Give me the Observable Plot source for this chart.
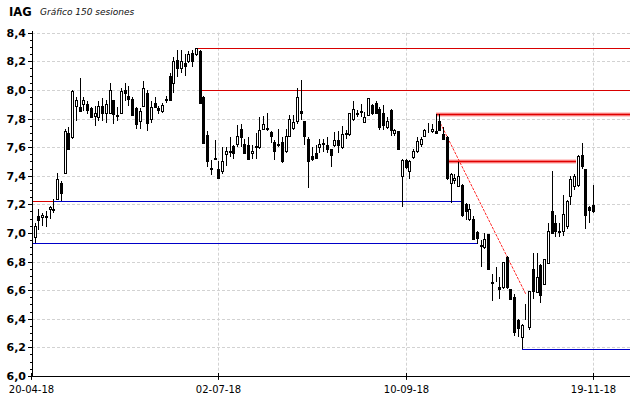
<!DOCTYPE html>
<html><head><meta charset="utf-8">
<script src="https://cdn.jsdelivr.net/npm/d3@7"></script>
<script src="https://cdn.jsdelivr.net/npm/@observablehq/plot@0.6"></script>
<style>body{margin:0;background:#fff}#chart{width:640px;height:398px}</style>
</head><body><div id="chart"></div><script>
// 150 sessions, Apr 23 2018 .. Nov 19 2018 (index 0..149)
const opens  = [6.97,7.12,7.11,7.11,7.17,7.16,7.24,7.35,7.42,7.70,
7.67,7.89,7.88,7.90,7.90,7.87,7.82,7.81,7.89,7.84,
7.84,7.93,7.825,7.84,8.00,7.96,7.935,7.875,7.78,7.89,
7.98,7.80,7.91,7.876,7.85,7.93,8.10,8.05,8.21,8.15,
8.19,8.20,8.255,8.25,8.27,7.95,7.685,7.457,7.525,7.445,
7.43,7.555,7.575,7.61,7.62,7.73,7.625,7.615,7.557,7.60,
7.60,7.73,7.735,7.706,7.635,7.625,7.635,7.57,7.68,7.735,
7.78,7.85,7.78,7.66,7.537,7.556,7.598,7.627,7.615,7.585,
7.615,7.65,7.60,7.70,7.69,7.80,7.838,7.85,7.773,7.825,
7.895,7.91,7.865,7.835,7.74,7.86,7.70,7.71,7.40,7.51,
7.435,7.53,7.57,7.62,7.68,7.716,7.715,7.715,7.78,7.69,
7.67,7.35,7.37,7.325,7.335,7.20,7.10,7.10,7.004,6.912,
6.90,6.99,6.66,6.672,6.62,6.62,6.83,6.605,6.555,6.39,
6.27,6.40,6.34,6.745,6.59,6.775,6.645,6.79,7.15,7.067,
7.005,7.01,7.05,7.255,7.325,7.335,7.545,7.45,7.18,7.195];
const highs  = [7.07,7.17,7.14,7.15,7.19,7.24,7.42,7.36,7.73,7.74,
8.00,7.95,8.08,7.95,7.92,7.88,7.89,7.92,7.94,7.93,
8.05,7.93,7.88,8.01,8.05,8.03,7.95,7.88,7.87,8.06,
8.00,7.92,7.95,7.89,7.91,7.96,8.12,8.23,8.28,8.28,
8.25,8.27,8.28,8.29,8.28,7.96,7.71,7.51,7.65,7.50,
7.60,7.60,7.67,7.615,7.755,7.76,7.66,7.67,7.615,7.697,
7.81,7.82,7.84,7.713,7.65,7.727,7.673,7.73,7.825,7.825,
8.01,8.07,7.78,7.673,7.603,7.615,7.66,7.66,7.668,7.59,
7.708,7.713,7.75,7.72,7.84,7.925,7.86,7.90,7.848,7.94,
7.90,7.92,7.88,7.895,7.808,7.864,7.73,7.715,7.52,7.52,
7.51,7.59,7.67,7.673,7.727,7.766,7.76,7.83,7.83,7.743,
7.68,7.417,7.41,7.498,7.34,7.21,7.20,7.115,7.01,6.95,
6.997,6.995,6.713,6.764,6.694,6.80,6.84,6.61,6.57,6.395,
6.36,6.50,6.595,6.857,6.862,6.78,6.82,7.067,7.43,7.125,
7.067,7.265,7.23,7.40,7.41,7.545,7.627,7.45,7.19,7.335];
const lows   = [6.93,7.02,7.05,7.04,7.095,7.14,7.23,7.226,7.41,7.585,
7.66,7.78,7.85,7.85,7.83,7.81,7.75,7.78,7.78,7.77,
7.83,7.765,7.78,7.835,7.92,7.89,7.82,7.73,7.73,7.88,
7.71,7.77,7.87,7.83,7.84,7.905,7.92,7.98,8.09,8.12,
8.10,8.19,8.16,8.24,7.91,7.62,7.46,7.405,7.51,7.38,
7.41,7.47,7.53,7.52,7.60,7.60,7.55,7.51,7.52,7.515,
7.59,7.72,7.71,7.626,7.51,7.603,7.487,7.56,7.668,7.72,
7.765,7.79,7.615,7.317,7.503,7.52,7.556,7.568,7.556,7.463,
7.603,7.556,7.59,7.655,7.68,7.785,7.81,7.81,7.77,7.82,
7.825,7.835,7.72,7.72,7.73,7.678,7.678,7.58,7.18,7.45,
7.38,7.52,7.56,7.603,7.668,7.696,7.696,7.695,7.715,7.65,
7.37,7.21,7.34,7.32,7.11,7.09,7.085,6.955,6.92,6.764,
6.89,6.745,6.526,6.66,6.538,6.61,6.61,6.535,6.28,6.274,
6.188,6.39,6.32,6.535,6.585,6.507,6.64,6.783,6.99,6.974,
6.974,6.98,7.03,7.195,7.30,7.32,7.45,7.03,7.07,7.14];
const closes = [7.05,7.09,7.125,7.12,7.18,7.165,7.38,7.28,7.71,7.59,
7.99,7.93,7.855,7.93,7.86,7.81,7.835,7.89,7.84,7.90,
8.00,7.83,7.815,7.99,7.975,7.935,7.825,7.765,7.85,8.01,
7.77,7.88,7.88,7.86,7.894,7.935,7.93,8.20,8.15,8.20,
8.17,8.25,8.205,8.29,7.91,7.63,7.50,7.445,7.515,7.385,
7.50,7.57,7.565,7.56,7.68,7.67,7.56,7.52,7.573,7.61,
7.72,7.765,7.73,7.68,7.575,7.614,7.505,7.68,7.795,7.775,
7.95,7.84,7.675,7.50,7.517,7.526,7.62,7.625,7.587,7.545,
7.65,7.615,7.695,7.69,7.835,7.865,7.83,7.845,7.808,7.94,
7.835,7.84,7.74,7.755,7.785,7.72,7.72,7.585,7.51,7.46,
7.50,7.57,7.64,7.655,7.72,7.712,7.73,7.696,7.72,7.657,
7.385,7.41,7.387,7.40,7.125,7.15,7.17,6.96,6.962,6.91,
6.96,6.75,6.65,6.67,6.605,6.80,6.62,6.54,6.31,6.332,
6.355,6.398,6.595,6.595,6.69,6.565,6.82,7.01,7.00,7.01,
7.015,7.13,7.22,7.38,7.40,7.54,7.465,7.125,7.16,7.15];

// axes
const xMax = 158.9;
const xTickIndex  = [-1, 49, 99, 149];
const xTickLabels = ["20-04-18", "02-07-18", "10-09-18", "19-11-18"];
const yTicks      = [6.0, 6.2, 6.4, 6.6, 6.8, 7.0, 7.2, 7.4, 7.6, 7.8, 8.0, 8.2, 8.4];
const yMinorTicks = d3.range(6.05, 8.4, 0.05).filter(v => Math.abs(Math.round(v*5) - v*5) > 0.01);

// horizontal support / resistance lines
const levelValue = [8.29, 8.00, 7.22, 7.22, 6.93, 6.19];
const levelFrom  = [43, 44, -0.72, 4.9, -0.72, 130];
const levelTo    = [xMax, xMax, 4.9, 114, 118.1, xMax];
const levelKind  = ["resistance", "resistance", "resistance", "support", "support", "support"];
// thick resistance bands
const bandValue = [7.83, 7.50];
const bandFrom  = [107, 110.2];
const bandTo    = [xMax, 144.6];
// dashed trend line
const trendIndex = [108.1, 130.8];
const trendValue = [7.768, 6.578];

const candles = opens.map((o, i) => ({i, o, h: highs[i], l: lows[i], c: closes[i],
  lo: Math.min(o, closes[i]), hi: Math.max(o, closes[i]), up: closes[i] >= o}));
const levels = levelValue.map((v, j) => ({v, a: levelFrom[j], b: levelTo[j], kind: levelKind[j]}));
const bands = bandValue.map((v, j) => ({v, a: bandFrom[j], b: bandTo[j]}));
const trend = trendIndex.map((x, j) => ({x, y: trendValue[j]}));
const kindColor = {resistance: "#d80000", support: "#0000c8"};
const fmt = d => d.toFixed(1).replace(".", ",");

const grid = {stroke: "#d2d2d2", strokeDasharray: "3,2", strokeWidth: 1};

const chart = Plot.plot({
  width: 640, height: 398,
  marginLeft: 32, marginRight: 10, marginTop: 32.7, marginBottom: 22.1,
  x: {domain: [-0.72, xMax], round: true},
  y: {domain: [6.0, 8.4], round: true},
  style: {background: "white", overflow: "visible"},
  marks: [
    Plot.ruleY(yTicks.filter(v => v > 6.0), {...grid}),
    Plot.ruleX(xTickIndex.slice(1), {...grid}),
    Plot.ruleY(levels, {y: "v", x1: "a", x2: "b", stroke: d => kindColor[d.kind], strokeWidth: 1}),
    Plot.ruleY(bands, {y: "v", x1: "a", x2: "b", stroke: "#ff5050", strokeOpacity: 0.55, strokeWidth: 4}),
    Plot.ruleY(bands, {y: "v", x1: "a", x2: "b", stroke: "#e00000", strokeWidth: 1.5}),
    Plot.line(trend, {x: "x", y: "y", stroke: "#ff2a2a", strokeWidth: 1, strokeDasharray: "2,2"}),
    Plot.ruleX(candles, {x: "i", y1: "l", y2: "h", stroke: "black", strokeWidth: 1}),
    Plot.rect(candles, {x1: "i", x2: "i", insetLeft: -0.5, insetRight: -1.5, y1: "lo", y2: "hi",
      insetTop: 0.5, insetBottom: -0.5,
      fill: d => d.up ? "white" : "black", stroke: "black", strokeWidth: 1}),
    Plot.axisY({ticks: yTicks, tickSize: 4, tickPadding: 2.5, tickFormat: fmt,
      fontSize: 11, fontWeight: "bold", fontFamily: "DejaVu Sans", fill: "black", label: null}),
    Plot.axisY({ticks: yMinorTicks, tickSize: 2, tickFormat: () => "", label: null}),
    Plot.axisX({ticks: xTickIndex, tickSize: 4, tickPadding: 5.5, tickFormat: (d, i) => xTickLabels[i],
      fontSize: 10, fontFamily: "DejaVu Sans", fill: "black", label: null}),
    Plot.ruleX(xTickIndex, {y1: 6.0, y2: 6.02, stroke: "black"}),
    Plot.ruleY([6.0], {x1: -0.72, x2: xMax, stroke: "black"}),
    Plot.ruleX([-0.72], {y1: 6.0, y2: 8.415, stroke: "black"})
  ]
});
document.getElementById("chart").appendChild(chart);
const svg = d3.select(chart);
svg.append("text").attr("x", 9).attr("y", 15.5).attr("text-anchor", "start").attr("font-family", "DejaVu Sans")
  .attr("font-weight", "bold").attr("font-size", 11.5).attr("fill", "black").text("IAG");
svg.append("text").attr("x", 40).attr("y", 15).attr("text-anchor", "start").attr("font-family", "DejaVu Sans")
  .attr("font-style", "italic").attr("font-size", 9).attr("fill", "#111").text("Gráfico 150 sesiones");
</script></body></html>
